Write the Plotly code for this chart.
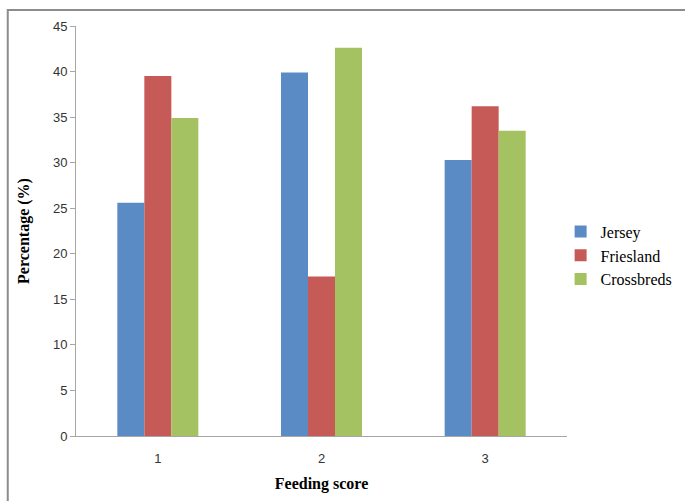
import plotly.graph_objects as go

# Feeding score distribution by breed
categories = ["1", "2", "3"]
jersey = [25.6, 39.9, 30.3]
friesland = [39.5, 17.5, 36.2]
crossbreds = [34.9, 42.6, 33.5]

series = [
    ("Jersey", jersey, "#5b8bc5"),
    ("Friesland", friesland, "#c65a57"),
    ("Crossbreds", crossbreds, "#a5c262"),
]

fig = go.Figure()
for name, vals, color in series:
    fig.add_trace(go.Bar(x=categories, y=vals, name=name, marker_color=color,
                         marker_line_width=0))

axis_font = dict(family="Liberation Sans, Arial, sans-serif", size=13, color="#333333")
title_font = dict(family="Liberation Serif, Times New Roman, serif", size=16, color="black")

fig.update_layout(
    width=685, height=501,
    margin=dict(l=76, r=118, t=26, b=65, autoexpand=False),
    plot_bgcolor="white", paper_bgcolor="white",
    barmode="group", bargap=0.505, bargroupgap=0,
    showlegend=True,
    legend=dict(x=0.987, y=0.44, yanchor="middle", xanchor="left",
                font=dict(family="Liberation Serif, Times New Roman, serif", size=16, color="black"),
                itemwidth=30),
    xaxis=dict(
        type="category", showline=True, linecolor="#a6a6a6", linewidth=1,
        ticks="", ticklabelstandoff=10, tickfont=axis_font, showgrid=False,
        title=dict(text="<b>Feeding score</b>", font=title_font, standoff=13),
    ),
    yaxis=dict(
        range=[0, 45], dtick=5, showline=True, linecolor="#a6a6a6", linewidth=1,
        ticks="outside", ticklen=5, tickcolor="#a6a6a6", tickfont=axis_font,
        showgrid=False, zeroline=False,
        title=dict(text="<b>Percentage (%)</b>", font=title_font, standoff=19),
    ),
    shapes=[dict(type="rect", xref="paper", yref="paper",
                 x0=-0.139, x1=1.30, y0=-0.18, y1=1.039,
                 line=dict(color="#8c8c8c", width=2))],
)

fig.write_html("out.html")
